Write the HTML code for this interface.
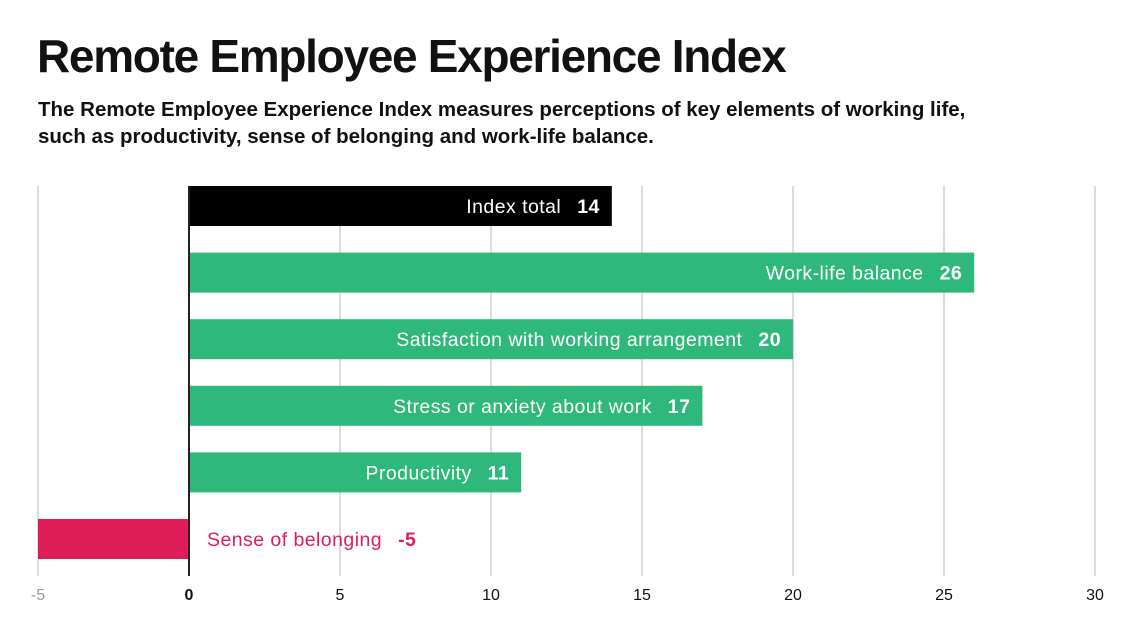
<!DOCTYPE html>
<html><head><meta charset="utf-8"><style>
body{margin:0;background:#fff;font-family:"Liberation Sans",sans-serif;}
#wrap{position:relative;width:1133px;height:619px;overflow:hidden;}
h1{position:absolute;left:37px;top:33px;margin:0;font-size:46px;line-height:46px;font-weight:bold;color:#111;letter-spacing:-1.3px;white-space:nowrap;}
p{position:absolute;left:38px;top:96px;margin:0;font-size:20.5px;font-weight:bold;color:#111;line-height:27px;white-space:nowrap;}
</style></head><body>
<div id="wrap">
<h1>Remote Employee Experience Index</h1>
<p>The Remote Employee Experience Index measures perceptions of key elements of working life,<br>such as productivity, sense of belonging and work-life balance.</p>
<svg id="chart" width="1133" height="619" style="position:absolute;left:0;top:0"></svg>
</div>
<script>
const categories=["Index total","Work-life balance","Satisfaction with working arrangement","Stress or anxiety about work","Productivity","Sense of belonging"];
const values=[14,26,20,17,11,-5];
const colors=["#000000","#2fb87c","#2fb87c","#2fb87c","#2fb87c","#de1d58"];
const ticks=[-5,0,5,10,15,20,25,30];
const svg=document.getElementById('chart');
const NS='http://www.w3.org/2000/svg';
const x=v=>189+(v)*30.2;
const rowY=i=>186+i*66.6;
const barH=40;
function mk(t,a){const e=document.createElementNS(NS,t);for(const k in a)e.setAttribute(k,a[k]);svg.appendChild(e);return e;}
ticks.forEach(t=>{
  const g=mk('line',{x1:x(t),x2:x(t),y1:186,y2:576,stroke:t===0?'#222':'#d0d0d0','stroke-width':t===0?2:1.5});
  
  
  const l=mk('text',{x:x(t),y:600,'text-anchor':'middle','font-size':16,fill:t===-5?'#999':'#111','font-weight':t===0?'bold':'normal'});
  l.textContent=t;
  
  
});
categories.forEach((c,i)=>{
  const v=values[i],y=rowY(i);
  const x0=Math.min(x(0),x(v)),w=Math.abs(x(v)-x(0));
  const r=mk('rect',{x:x0,y:y,width:w,height:barH,fill:colors[i]});
  
  
  const t=mk('text',{'font-size':19.5,y:y+barH/2+7,'letter-spacing':0.45});
  if(v>=0){t.setAttribute('x',x(v)-12);t.setAttribute('text-anchor','end');t.setAttribute('fill','#fff');}
  else{t.setAttribute('x',x(0)+18);t.setAttribute('fill',colors[i]);}
  const s1=document.createElementNS(NS,'tspan');s1.textContent=c;
  const s2=document.createElementNS(NS,'tspan');s2.setAttribute('font-weight','bold');s2.setAttribute('dx','16');s2.textContent=String(v);
  t.appendChild(s1);t.appendChild(s2);
  
  
});
mk('line',{x1:x(0),x2:x(0),y1:186,y2:576,stroke:'#222','stroke-width':2});
</script>
</body></html>
